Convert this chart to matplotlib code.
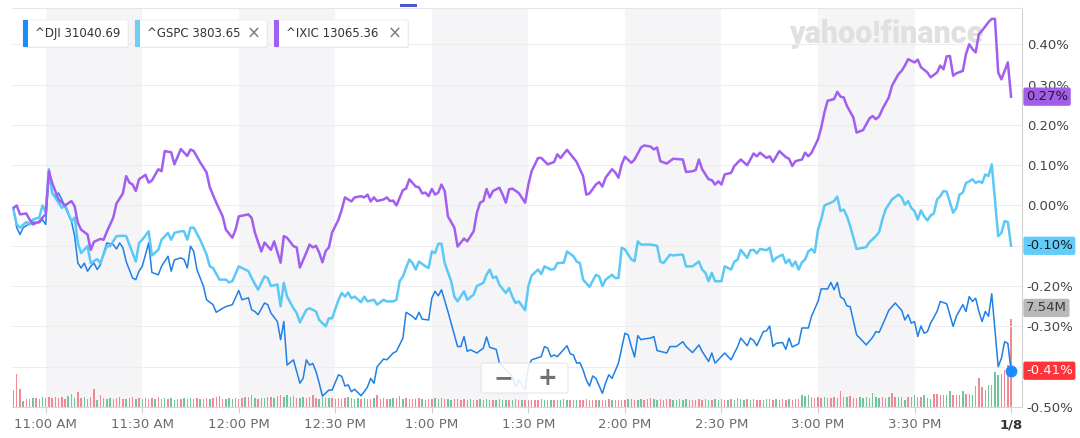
import matplotlib
matplotlib.use("Agg")
import matplotlib.pyplot as plt
import numpy as np
from matplotlib.patches import FancyBboxPatch, Rectangle
from matplotlib.transforms import blended_transform_factory

# minutes after 10:50 AM, % change vs previous close
dji = [(0, -0.010), (1, -0.055), (2, -0.072), (3, -0.055), (4, -0.050), (6, -0.041), (8, -0.043), (9, -0.035),
       (10, -0.047), (11, 0.077), (12, 0.031), (13, 0.023), (14, 0.031), (15, 0.015), (17, -0.022), (18, -0.039),
       (19, -0.076), (20, -0.143), (21, -0.155), (22, -0.143), (23, -0.163), (24, -0.151), (25, -0.143), (26, -0.159),
       (27, -0.147), (28, -0.118), (29, -0.093), (31, -0.097), (32, -0.108), (33, -0.093), (34, -0.105), (35, -0.139),
       (37, -0.180), (38, -0.184), (39, -0.163), (40, -0.151), (42, -0.093), (43, -0.166), (45, -0.172), (46, -0.151),
       (48, -0.126), (49, -0.163), (50, -0.135), (52, -0.130), (53, -0.134), (54, -0.155), (55, -0.101), (56, -0.114),
       (57, -0.159), (59, -0.200), (60, -0.234), (62, -0.246), (63, -0.265), (65, -0.255), (66, -0.251), (68, -0.246),
       (70, -0.211), (71, -0.234), (73, -0.229), (74, -0.259), (75, -0.263), (76, -0.271), (78, -0.242), (79, -0.246),
       (80, -0.267), (82, -0.288), (83, -0.333), (84, -0.288), (85, -0.396), (87, -0.383), (88, -0.412), (89, -0.441),
       (90, -0.429), (91, -0.383), (92, -0.396), (93, -0.392), (94, -0.412), (95, -0.441), (96, -0.473), (98, -0.458),
       (99, -0.458), (101, -0.420), (102, -0.424), (103, -0.448), (104, -0.445), (105, -0.462), (106, -0.456),
       (108, -0.472), (109, -0.462), (110, -0.450), (111, -0.429), (112, -0.441), (113, -0.400), (115, -0.381),
       (116, -0.383), (118, -0.366), (119, -0.362), (121, -0.329), (122, -0.265), (124, -0.275), (125, -0.283),
       (126, -0.265), (127, -0.282), (129, -0.284), (130, -0.230), (131, -0.213), (132, -0.224), (133, -0.209),
       (135, -0.263), (136, -0.292), (138, -0.350), (139, -0.350), (140, -0.325), (141, -0.362), (142, -0.358),
       (144, -0.366), (146, -0.354), (147, -0.326), (148, -0.352), (150, -0.357), (151, -0.391), (152, -0.400),
       (155, -0.425), (156, -0.449), (157, -0.433), (159, -0.458), (160, -0.400), (161, -0.383), (164, -0.375),
       (165, -0.350), (166, -0.354), (167, -0.375), (168, -0.371), (169, -0.375), (170, -0.366), (172, -0.348),
       (173, -0.368), (174, -0.371), (175, -0.391), (176, -0.390), (177, -0.408), (178, -0.433), (179, -0.448),
       (180, -0.423), (181, -0.429), (183, -0.466), (184, -0.440), (185, -0.420), (186, -0.429), (188, -0.391),
       (189, -0.354), (190, -0.317), (191, -0.321), (192, -0.350), (193, -0.376), (194, -0.323), (195, -0.333),
       (196, -0.331), (198, -0.329), (199, -0.325), (200, -0.360), (201, -0.362), (203, -0.366), (204, -0.350),
       (206, -0.350), (208, -0.338), (209, -0.350), (211, -0.365), (213, -0.346), (214, -0.362), (216, -0.387),
       (217, -0.366), (218, -0.391), (219, -0.383), (221, -0.366), (223, -0.383), (224, -0.366), (225, -0.351),
       (226, -0.329), (228, -0.348), (229, -0.329), (230, -0.335), (231, -0.348), (233, -0.313), (234, -0.311),
       (235, -0.299), (236, -0.350), (237, -0.342), (239, -0.340), (240, -0.357), (241, -0.329), (242, -0.351),
       (244, -0.343), (245, -0.304), (247, -0.304), (248, -0.275), (250, -0.238), (251, -0.207), (253, -0.207),
       (254, -0.191), (255, -0.209), (256, -0.191), (257, -0.227), (258, -0.232), (259, -0.249), (260, -0.251),
       (262, -0.321), (263, -0.329), (265, -0.346), (267, -0.327), (268, -0.313), (269, -0.315), (271, -0.279),
       (272, -0.260), (274, -0.242), (276, -0.260), (277, -0.284), (278, -0.271), (279, -0.292), (280, -0.288),
       (281, -0.325), (282, -0.299), (283, -0.317), (284, -0.313), (285, -0.292), (287, -0.263), (288, -0.238),
       (290, -0.244), (292, -0.300), (293, -0.275), (295, -0.246), (296, -0.263), (297, -0.226), (298, -0.238),
       (299, -0.230), (300, -0.263), (301, -0.288), (302, -0.263), (303, -0.275), (304, -0.219), (306, -0.400),
       (307, -0.379), (308, -0.338), (309, -0.342), (310, -0.410)]

gspc = [(0, -0.010), (1, -0.047), (2, -0.055), (4, -0.041), (5, -0.047), (6, -0.035), (8, -0.030), (9, 0.000),
        (10, -0.016), (11, 0.090), (12, 0.031), (14, 0.007), (15, -0.006), (16, 0.002), (18, -0.039), (19, -0.030),
        (20, -0.093), (21, -0.118), (23, -0.101), (24, -0.143), (26, -0.133), (27, -0.143), (29, -0.101),
        (30, -0.101), (32, -0.076), (34, -0.075), (35, -0.076), (37, -0.118), (38, -0.139), (39, -0.093),
        (40, -0.085), (42, -0.064), (43, -0.124), (45, -0.110), (46, -0.085), (48, -0.068), (49, -0.085),
        (50, -0.068), (52, -0.064), (53, -0.064), (54, -0.085), (55, -0.055), (56, -0.055), (58, -0.085),
        (60, -0.122), (61, -0.151), (62, -0.155), (64, -0.184), (66, -0.184), (67, -0.191), (68, -0.188),
        (70, -0.151), (71, -0.155), (73, -0.163), (74, -0.180), (76, -0.209), (78, -0.176), (79, -0.180),
        (80, -0.200), (82, -0.196), (83, -0.250), (84, -0.192), (85, -0.226), (87, -0.255), (88, -0.267),
        (89, -0.290), (91, -0.259), (92, -0.255), (94, -0.263), (95, -0.284), (97, -0.300), (98, -0.280),
        (99, -0.280), (101, -0.234), (102, -0.217), (103, -0.226), (104, -0.216), (105, -0.230), (106, -0.226),
        (108, -0.240), (109, -0.226), (110, -0.238), (112, -0.234), (113, -0.246), (115, -0.234), (116, -0.238),
        (118, -0.238), (119, -0.234), (120, -0.188), (121, -0.176), (123, -0.134), (124, -0.143), (125, -0.159),
        (126, -0.139), (128, -0.151), (129, -0.155), (130, -0.114), (131, -0.118), (132, -0.095), (133, -0.095),
        (134, -0.143), (136, -0.188), (137, -0.226), (138, -0.238), (140, -0.213), (141, -0.234), (143, -0.221),
        (144, -0.200), (146, -0.192), (147, -0.172), (148, -0.159), (149, -0.180), (150, -0.176), (151, -0.197),
        (153, -0.217), (154, -0.205), (155, -0.226), (156, -0.242), (157, -0.238), (159, -0.260), (160, -0.200),
        (161, -0.174), (163, -0.159), (164, -0.170), (165, -0.151), (167, -0.159), (168, -0.158), (169, -0.143),
        (171, -0.142), (172, -0.114), (174, -0.126), (175, -0.139), (176, -0.143), (177, -0.184), (179, -0.202),
        (181, -0.172), (182, -0.176), (183, -0.200), (184, -0.184), (186, -0.172), (187, -0.180), (188, -0.180),
        (189, -0.105), (190, -0.109), (192, -0.134), (193, -0.138), (194, -0.089), (195, -0.097), (198, -0.097),
        (200, -0.100), (201, -0.139), (202, -0.143), (204, -0.122), (205, -0.124), (207, -0.122), (208, -0.122),
        (209, -0.151), (211, -0.151), (213, -0.139), (214, -0.159), (215, -0.167), (216, -0.188), (217, -0.167),
        (218, -0.188), (220, -0.188), (221, -0.151), (223, -0.159), (224, -0.139), (225, -0.135), (226, -0.110),
        (228, -0.130), (229, -0.111), (230, -0.110), (231, -0.119), (232, -0.108), (234, -0.111), (235, -0.105),
        (236, -0.139), (237, -0.130), (239, -0.122), (240, -0.143), (241, -0.134), (242, -0.151), (243, -0.139),
        (244, -0.159), (245, -0.141), (246, -0.134), (247, -0.114), (248, -0.108), (249, -0.117), (250, -0.060),
        (251, -0.035), (252, 0.000), (254, 0.007), (255, 0.011), (256, 0.022), (257, -0.014), (258, -0.010),
        (259, -0.027), (260, -0.051), (261, -0.080), (262, -0.108), (264, -0.105), (265, -0.103), (266, -0.091),
        (268, -0.076), (269, -0.066), (270, -0.035), (271, -0.010), (273, 0.015), (275, 0.027), (276, 0.020),
        (277, 0.002), (278, 0.011), (279, -0.006), (280, -0.014), (281, -0.035), (282, -0.012), (283, -0.027),
        (284, -0.037), (285, -0.025), (286, -0.020), (287, 0.015), (288, 0.023), (289, 0.036), (290, 0.034),
        (292, -0.018), (293, -0.006), (294, 0.027), (295, 0.032), (296, 0.056), (297, 0.060), (298, 0.065),
        (299, 0.056), (300, 0.060), (301, 0.056), (302, 0.077), (303, 0.073), (304, 0.102), (306, -0.076),
        (307, -0.068), (308, -0.039), (309, -0.041), (310, -0.100)]

ixic = [(0, -0.006), (1, 0.000), (2, -0.022), (4, -0.020), (5, -0.035), (6, -0.047), (8, -0.040), (9, -0.030),
        (10, -0.022), (11, 0.085), (12, 0.056), (14, 0.015), (16, 0.000), (18, 0.011), (19, -0.002), (20, -0.043),
        (21, -0.060), (23, -0.072), (24, -0.110), (25, -0.090), (27, -0.083), (28, -0.085), (29, -0.065),
        (31, -0.030), (32, 0.005), (34, 0.030), (35, 0.073), (36, 0.057), (37, 0.052), (38, 0.036), (39, 0.065),
        (41, 0.076), (42, 0.057), (43, 0.062), (45, 0.090), (46, 0.085), (47, 0.135), (49, 0.132), (50, 0.102),
        (52, 0.140), (54, 0.123), (55, 0.139), (56, 0.135), (58, 0.107), (60, 0.082), (61, 0.045), (63, 0.007),
        (65, -0.027), (66, -0.060), (68, -0.080), (69, -0.060), (70, -0.027), (73, -0.022), (74, -0.031),
        (75, -0.067), (77, -0.114), (78, -0.092), (80, -0.110), (81, -0.089), (83, -0.142), (84, -0.076),
        (85, -0.080), (87, -0.101), (88, -0.104), (89, -0.154), (91, -0.117), (92, -0.097), (93, -0.104),
        (94, -0.100), (95, -0.117), (96, -0.141), (97, -0.113), (98, -0.104), (99, -0.067), (101, -0.035),
        (102, -0.010), (103, 0.020), (105, 0.010), (106, 0.020), (108, 0.023), (109, 0.020), (110, 0.027),
        (111, 0.010), (112, 0.020), (113, 0.011), (115, 0.015), (116, 0.020), (117, 0.011), (118, 0.012),
        (119, 0.000), (121, 0.038), (122, 0.042), (123, 0.065), (125, 0.047), (126, 0.045), (127, 0.030),
        (128, 0.032), (129, 0.023), (130, 0.041), (131, 0.027), (132, 0.032), (133, 0.052), (134, 0.036),
        (135, -0.027), (137, -0.055), (138, -0.102), (140, -0.082), (141, -0.089), (143, -0.064), (144, -0.018),
        (145, 0.007), (146, 0.011), (147, 0.041), (148, 0.020), (149, 0.036), (151, 0.044), (152, 0.027),
        (153, 0.007), (154, 0.040), (155, 0.042), (157, 0.031), (158, 0.019), (159, 0.007), (160, 0.052),
        (161, 0.085), (163, 0.118), (164, 0.118), (166, 0.102), (168, 0.108), (169, 0.127), (170, 0.118),
        (172, 0.138), (174, 0.118), (175, 0.108), (177, 0.073), (178, 0.027), (179, 0.030), (181, 0.052),
        (182, 0.058), (183, 0.047), (184, 0.069), (186, 0.090), (187, 0.082), (188, 0.069), (189, 0.102),
        (190, 0.121), (192, 0.106), (193, 0.114), (195, 0.144), (196, 0.149), (198, 0.146), (199, 0.139),
        (200, 0.144), (201, 0.110), (203, 0.104), (205, 0.116), (208, 0.114), (209, 0.083), (211, 0.085),
        (212, 0.088), (213, 0.114), (214, 0.090), (216, 0.065), (217, 0.063), (218, 0.052), (219, 0.060),
        (220, 0.052), (221, 0.077), (223, 0.081), (224, 0.098), (226, 0.114), (228, 0.100), (230, 0.129),
        (231, 0.122), (232, 0.131), (234, 0.118), (235, 0.122), (236, 0.108), (238, 0.135), (240, 0.120),
        (241, 0.116), (242, 0.098), (243, 0.110), (245, 0.114), (246, 0.131), (247, 0.122), (248, 0.131),
        (250, 0.164), (251, 0.193), (252, 0.231), (253, 0.260), (255, 0.264), (256, 0.282), (257, 0.270),
        (258, 0.268), (259, 0.247), (261, 0.218), (262, 0.181), (264, 0.187), (266, 0.216), (267, 0.222),
        (268, 0.214), (269, 0.221), (270, 0.239), (272, 0.268), (273, 0.297), (275, 0.326), (276, 0.334),
        (277, 0.347), (278, 0.363), (280, 0.355), (281, 0.362), (282, 0.343), (284, 0.330), (285, 0.318),
        (287, 0.330), (288, 0.347), (289, 0.338), (290, 0.370), (291, 0.371), (292, 0.322), (293, 0.328),
        (295, 0.334), (296, 0.376), (297, 0.400), (298, 0.388), (299, 0.380), (300, 0.425), (301, 0.434),
        (303, 0.455), (304, 0.463), (305, 0.463), (306, 0.330), (307, 0.313), (309, 0.355), (310, 0.270)]

# per-minute volume (millions), one bar per minute from 10:50
volume = [1.43, 2.83, 1.54, 0.55, 0.72, 0.68, 0.75, 0.80, 0.70, 0.86, 0.78, 0.82, 0.74, 0.90, 0.76, 0.84, 0.70, 0.92, 1.11, 0.80,
          1.29, 0.76, 0.88, 0.70, 0.82, 1.54, 0.62, 1.00, 0.74, 0.68, 0.80, 0.72, 0.78, 0.86, 0.70, 0.66, 0.76, 0.82, 0.70, 0.74,
          0.68, 0.78, 0.72, 0.80, 0.70, 0.86, 0.66, 0.74, 0.70, 0.76, 0.64, 0.72, 0.70, 0.78, 0.68, 0.74, 0.66, 0.80, 0.72, 0.70,
          0.76, 0.68, 0.74, 0.82, 0.94, 0.70, 0.66, 0.74, 0.72, 0.80, 0.70, 0.76, 0.84, 0.86, 1.03, 0.78, 0.72, 0.80, 0.74, 0.82,
          0.86, 0.78, 0.96, 1.03, 0.90, 1.00, 0.84, 0.94, 0.80, 0.76, 0.88, 0.74, 0.82, 1.03, 0.78, 0.72, 0.84, 0.76, 0.80, 0.74,
          0.72, 0.80, 0.70, 0.76, 0.82, 0.74, 0.68, 0.78, 0.70, 0.74, 0.66, 0.72, 0.80, 1.03, 0.70, 0.76, 0.72, 0.68, 0.74, 0.80,
          0.94, 0.70, 0.74, 0.66, 0.72, 0.68, 0.76, 0.70, 0.64, 0.72, 0.68, 0.74, 0.70, 0.77, 0.66, 0.72, 0.64, 0.70, 0.68, 0.62,
          0.66, 0.60, 0.68, 0.64, 0.58, 0.66, 0.62, 0.70, 0.60, 0.64, 0.58, 0.66, 0.62, 0.56, 0.64, 0.60, 0.66, 0.58, 0.62, 0.60,
          0.64, 0.58, 0.62, 0.56, 0.66, 0.60, 0.58, 0.64, 0.62, 0.56, 0.60, 0.66, 0.58, 0.62, 0.64, 0.56, 0.60, 0.58, 0.66, 0.62,
          0.60, 0.64, 0.56, 0.62, 0.58, 0.66, 0.60, 0.64, 0.58, 0.62, 0.56, 0.66, 0.72, 0.60, 0.64, 0.68, 0.62, 0.70, 0.74, 0.66,
          0.62, 0.68, 0.60, 0.66, 0.70, 0.64, 0.60, 0.68, 0.62, 0.66, 0.58, 0.64, 0.60, 0.66, 0.62, 0.70, 0.64, 0.60, 0.68, 0.62,
          0.66, 0.60, 0.64, 0.70, 0.62, 0.77, 0.66, 0.60, 0.68, 0.62, 0.66, 0.60, 0.64, 0.62, 0.68, 0.72, 0.60, 0.66, 0.62, 0.70,
          0.64, 0.68, 0.62, 0.70, 0.66, 1.03, 0.98, 1.00, 0.86, 0.80, 0.84, 0.78, 0.82, 0.76, 0.80, 0.84, 0.78, 1.37, 0.82, 0.86,
          0.94, 0.80, 0.76, 0.82, 0.78, 0.84, 0.80, 1.20, 0.86, 0.80, 0.84, 0.78, 0.88, 1.20, 0.86, 0.82, 0.90, 0.60, 0.86, 0.90,
          1.03, 0.86, 0.90, 1.03, 0.77, 0.70, 1.11, 1.11, 1.03, 1.05, 1.03, 1.37, 1.03, 1.00, 1.05, 1.37, 1.11, 1.15, 1.03, 1.80,
          2.49, 1.71, 1.46, 1.89, 1.89, 3.00, 2.74, 2.83, 3.17, 3.60, 7.54]
vol_dir = ("rrrgrggrrggrrgrrrgrg" "rrgrrrgrrggrrgrggrgr" "ggrrgrrgrggrrgggrrgr" "rgrrgrgggrrrgrrgrrgg"
           "rgrrgggrrggrgrrggrgr" "grrrgrggrgrrgrrgrggr" "ggrgrgrggrrgggrggrgr" "rggrrgrgrrgrggrgrrgr"
           "rgrrrgrgrrgggrrgrrrg" "rrgrgrgrrgrggrggrrrg" "grgrrggrggrrgrrrgrgg" "rrgrgrggrgrrrgggrggr"
           "rgrgrggggrrrgrrrrrrg" "rrrgggrgggrggrrgrgrg" "grrgggrrrgggrrrgrrgr" "rrggrgggrrr")

tick_min = [10, 40, 70, 100, 130, 160, 190, 220, 250, 280, 310]
tick_lab = ["11:00 AM", "11:30 AM", "12:00 PM", "12:30 PM", "1:00 PM", "1:30 PM",
            "2:00 PM", "2:30 PM", "3:00 PM", "3:30 PM", "1/8"]
shaded = [10, 70, 130, 190, 250]   # starts of grey half-hour bands

legend = [("^DJI", "31040.69", "#1a8cff"), ("^GSPC", "3803.65", "#6fcdf6"), ("^IXIC", "13065.36", "#a05ff0")]

W, H = 1080, 438
fig = plt.figure(figsize=(W / 100, H / 100), dpi=100)


def fx(x):
    return x / W


def fy(y):
    return 1 - y / H


rect = [fx(12), fy(407), (1022 - 12) / W, (407 - 8) / H]
axv = fig.add_axes(rect)
ax = fig.add_axes(rect, sharex=axv)
ax.patch.set_visible(False)
axv.axis("off")

ax.set_xlim(-0.47, 313.4)
ax.set_ylim(-0.5, 0.49)
axv.set_ylim(0, 34.2)

for s in shaded:
    axv.axvspan(s, s + 30, color="#f5f5f7", lw=0, zorder=0)

vcols = ["#ef8993" if c == "r" else "#72c49a" for c in vol_dir]
axv.bar(np.arange(len(volume)), volume, width=0.45, color=vcols[:len(volume)], lw=0, zorder=2)

# watermark sits under the lines
ax.text(0.866, 0.935, "yahoo!finance", transform=ax.transAxes, ha="center", va="center",
        fontsize=22, fontweight="heavy", family="Roboto", color="#e0e0e0", zorder=0.5)

for data, col, lw in [(dji, "#1f80e6", 1.1), (gspc, "#5cc8f6", 1.8), (ixic, "#a25ef0", 1.8)]:
    t, v = zip(*data)
    ax.plot(t, v, color=col, lw=lw, solid_joinstyle="round", zorder=3)

ax.plot([dji[-1][0]], [dji[-1][1]], "o", ms=7.5, color="#1a8cff", zorder=7, clip_on=False)

# right-hand labels; the ones fully hidden by value badges are left blank
hidden = {-0.1, -0.4}
yt = np.round(np.arange(-0.5, 0.41, 0.1), 2)
ax.set_yticks(yt)
ax.set_yticklabels(["" if v in hidden else f"{abs(v):.2f}%" if abs(v) < 1e-9 else f"{v:.2f}%" for v in yt])
ax.yaxis.tick_right()
ax.grid(axis="y", color="#ededed", lw=0.8, zorder=0)
ax.tick_params(axis="y", length=0, pad=3.5, labelsize=9.5, labelcolor="#444444")

ax.set_xticks(tick_min)
ax.set_xticklabels(tick_lab)
ax.tick_params(axis="x", length=4, color="#cfcfcf", pad=4, labelsize=9.5, labelcolor="#6b6b6b")
last = ax.get_xticklabels()[-1]
last.set_fontweight("bold")
last.set_color("#333333")

ax.spines["left"].set_visible(False)
ax.spines["top"].set_color("#e6e6e6")
ax.spines["right"].set_color("#d2d2d2")
ax.spines["bottom"].set_color("#d6d6d6")
for sp in ax.spines.values():
    sp.set_linewidth(0.8)

# value badges on the right axis
bx = (1026 - 12) / 1010
btrans = blended_transform_factory(ax.transAxes, ax.transData)
for val, txt, bg, fg in [(ixic[-1][1], "0.27%", "#a35ee8", "#1c1c1c"),
                         (gspc[-1][1], "-0.10%", "#62cdfa", "#1c1c1c"),
                         (dji[-1][1], "-0.41%", "#ff333a", "#ffffff")]:
    ax.text(bx, val, txt, transform=btrans, ha="left", va="center", fontsize=9.5, color=fg,
            bbox=dict(boxstyle="round,pad=0.2,rounding_size=0.15", fc=bg, ec="none"), zorder=10, clip_on=False)
vtrans = blended_transform_factory(ax.transAxes, axv.transData)
ax.annotate(f"{volume[-1]:.2f}M", xy=(bx, volume[-1]), xycoords=vtrans, xytext=(0, 8),
            textcoords="offset points", ha="left", va="center", fontsize=9.5, color="#3a3a3a",
            bbox=dict(boxstyle="round,pad=0.2,rounding_size=0.15", fc="#b9b9b9", ec="none"),
            zorder=10, annotation_clip=False)

# legend chips
chips = [(23, 128, False), (135, 267, True), (274, 408, True)]
for (name, val, col), (x0, x1, closable) in zip(legend, chips):
    fig.add_artist(FancyBboxPatch((fx(x0) + 0.0008, fy(48)), fx(x1 - x0), (47 - 20) / H,
                                  boxstyle="round,pad=0,rounding_size=0.003", fc="#e9e9e9", ec="none",
                                  transform=fig.transFigure, zorder=4))
    fig.add_artist(FancyBboxPatch((fx(x0), fy(47)), fx(x1 - x0), (47 - 20) / H,
                                  boxstyle="round,pad=0,rounding_size=0.003", fc="white", ec="#ececec",
                                  lw=0.6, transform=fig.transFigure, zorder=5))
    fig.add_artist(Rectangle((fx(x0), fy(47)), fx(5), (47 - 20) / H, fc=col, ec="none",
                             transform=fig.transFigure, zorder=6))
    fig.text(fx(x0 + 12), fy(33.5), f"{name} {val}", ha="left", va="center", fontsize=8.5,
             color="#333333", zorder=7)
    if closable:
        fig.text(fx(x1 - 13), fy(33.5), "\u00d7", ha="center", va="center", fontsize=12,
                 color="#7a7a7a", zorder=7)

fig.add_artist(Rectangle((fx(400), fy(7)), fx(17), 3 / H, fc="#4b57cf", ec="none",
                         transform=fig.transFigure, zorder=6))

# zoom control over the plot
fig.add_artist(FancyBboxPatch((fx(481), fy(393)), fx(87), 30 / H,
                              boxstyle="round,pad=0,rounding_size=0.004", fc="white", ec="#e2e2e2",
                              lw=0.8, alpha=0.88, transform=fig.transFigure, zorder=5))
fig.text(fx(503), fy(378), "\u2212", ha="center", va="center", fontsize=17, fontweight="bold",
         color="#707070", zorder=6)
fig.text(fx(547), fy(378), "+", ha="center", va="center", fontsize=17, fontweight="bold",
         color="#707070", zorder=6)

fig.savefig("out.png", dpi=100, facecolor="white")
